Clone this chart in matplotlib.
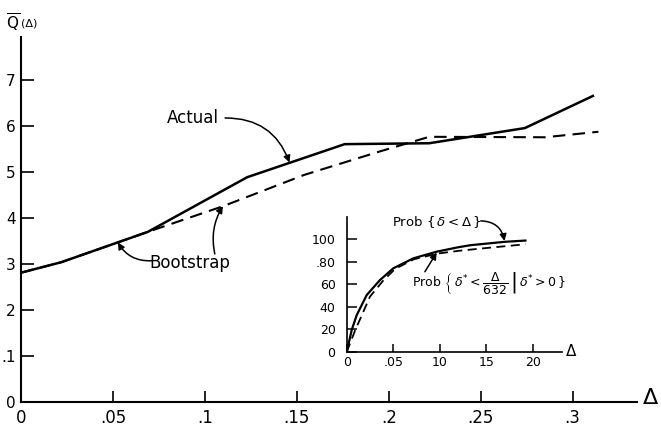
import numpy as np
from matplotlib import pyplot as plt

plt.rcParams['font.family'] = ['DejaVu Sans']
plt.rcParams['mathtext.fontset'] = 'dejavusans'

# main chart data
actual_x = [0.0, 0.022, 0.069, 0.123, 0.176, 0.222, 0.274, 0.311]
actual_y = [0.281, 0.304, 0.370, 0.489, 0.561, 0.563, 0.596, 0.666]

boot_x = [0.0, 0.022, 0.069, 0.110, 0.154, 0.195, 0.222, 0.285, 0.314]
boot_y = [0.281, 0.304, 0.370, 0.426, 0.494, 0.545, 0.577, 0.576, 0.588]

x_ticks = [0, 0.05, 0.1, 0.15, 0.2, 0.25, 0.3]
x_labels = ['0', '.05', '.1', '.15', '.2', '.25', '.3']
y_ticks = [0, 0.1, 0.2, 0.3, 0.4, 0.5, 0.6, 0.7]
y_labels = ['0', '.1', '2', '3', '4', '5', '6', '7']

# inset data
prob_x = [0, 0.54, 1.08, 2.15, 3.58, 5.02, 7.17, 9.69, 12.0, 13.3, 17.0, 19.2]
prob_y = [0, 19.5, 32.7, 50.4, 63.7, 74.1, 82.9, 88.8, 92.7, 94.5, 97.5, 98.6]

boot_px = [0, 0.9, 2.5, 3.9, 5.2, 7.2, 9.7, 12.0, 15.0, 19.2]
boot_py = [0, 19.0, 49.0, 63.0, 73.5, 82.0, 87.0, 89.5, 92.0, 95.3]

in_x_ticks = [0, 5, 10, 15, 20]
in_x_labels = ['0', '.05', '10', '15', '20']
in_y_ticks = [0, 20, 40, 60, 80, 100]
in_y_labels = ['0', '20', '40', '60', '.80', '100']

fig = plt.figure(figsize=(6.61, 4.26), dpi=100)

ax = fig.add_axes([0.0318, 0.057, 0.9319, 0.8568])
ax.plot(actual_x, actual_y, color='black', lw=1.8)
ax.plot(boot_x, boot_y, color='black', lw=1.5, dashes=(6, 3.5))
ax.set_xlim(0, 0.335)
ax.set_ylim(0, 0.795)
ax.set_xticks(x_ticks)
ax.set_xticklabels(x_labels)
ax.set_yticks(y_ticks)
ax.set_yticklabels(y_labels)
ax.spines['top'].set_visible(False)
ax.spines['right'].set_visible(False)
ax.spines['left'].set_linewidth(1.5)
ax.spines['bottom'].set_linewidth(1.5)
ax.tick_params(axis='y', direction='in', length=9, width=1.2, pad=4, labelsize=11)
ax.tick_params(axis='x', direction='in', length=8, width=1.2, pad=5, labelsize=12)

fig.text(6/661, 1 - 23/426, r'$\overline{\mathrm{Q}}$', fontsize=11, va='center')
fig.text(21/661, 1 - 24/426, '(Δ)', fontsize=8, va='center')
fig.text(643/661, (426 - 398)/426, 'Δ', fontsize=16, va='center')

arrow = dict(arrowstyle='-|>', color='black', lw=1.1, mutation_scale=10,
             shrinkA=0, shrinkB=0)

ax.text(0.0935, 0.618, 'Actual', fontsize=12, ha='center', va='center')
ax.annotate('', xy=(0.146, 0.521), xytext=(0.111, 0.618),
            arrowprops=dict(arrow, connectionstyle='arc3,rad=-0.35'))

ax.text(0.0918, 0.302, 'Bootstrap', fontsize=12, ha='center', va='center')
ax.annotate('', xy=(0.0527, 0.347), xytext=(0.071, 0.307),
            arrowprops=dict(arrow, connectionstyle='arc3,rad=-0.3'))
ax.annotate('', xy=(0.1098, 0.426), xytext=(0.1054, 0.322),
            arrowprops=dict(arrow, connectionstyle='arc3,rad=-0.2'))

# inset
axi = fig.add_axes([0.5245, 0.1737, 0.3253, 0.3176])
axi.plot(prob_x, prob_y, color='black', lw=1.6)
axi.plot(boot_px, boot_py, color='black', lw=1.3, dashes=(5, 3))
axi.set_xlim(0, 23.1)
axi.set_ylim(0, 119.7)
axi.set_xticks(in_x_ticks)
axi.set_xticklabels(in_x_labels)
axi.set_yticks(in_y_ticks)
axi.set_yticklabels(in_y_labels)
axi.patch.set_alpha(0)
axi.spines['top'].set_visible(False)
axi.spines['right'].set_visible(False)
axi.spines['left'].set_linewidth(1.2)
axi.spines['bottom'].set_linewidth(1.2)
axi.tick_params(axis='y', direction='in', length=7, width=1.1, pad=8, labelsize=9)
axi.tick_params(axis='x', direction='in', length=6, width=1.1, pad=3, labelsize=9)
fig.text(566/661, (426 - 352)/426, 'Δ', fontsize=11, va='center')

axi.text(4.9, 115, r'Prob $\{\,\delta < \Delta\,\}$', fontsize=9.5, ha='left', va='center')
axi.annotate('', xy=(16.95, 98.2), xytext=(14.4, 116),
             arrowprops=dict(arrow, connectionstyle='arc3,rad=-0.4'))

axi.text(7.0, 61,
         r'Prob $\left\{\,\delta^{*}<\dfrac{\Delta}{632}\,\right|\,\left.\delta^{*}>0\,\right\}$',
         fontsize=9, ha='left', va='center')
axi.annotate('', xy=(9.67, 88), xytext=(8.4, 71),
             arrowprops=dict(arrow, connectionstyle='arc3,rad=0.0'))

fig.savefig('out.png', dpi=100)
